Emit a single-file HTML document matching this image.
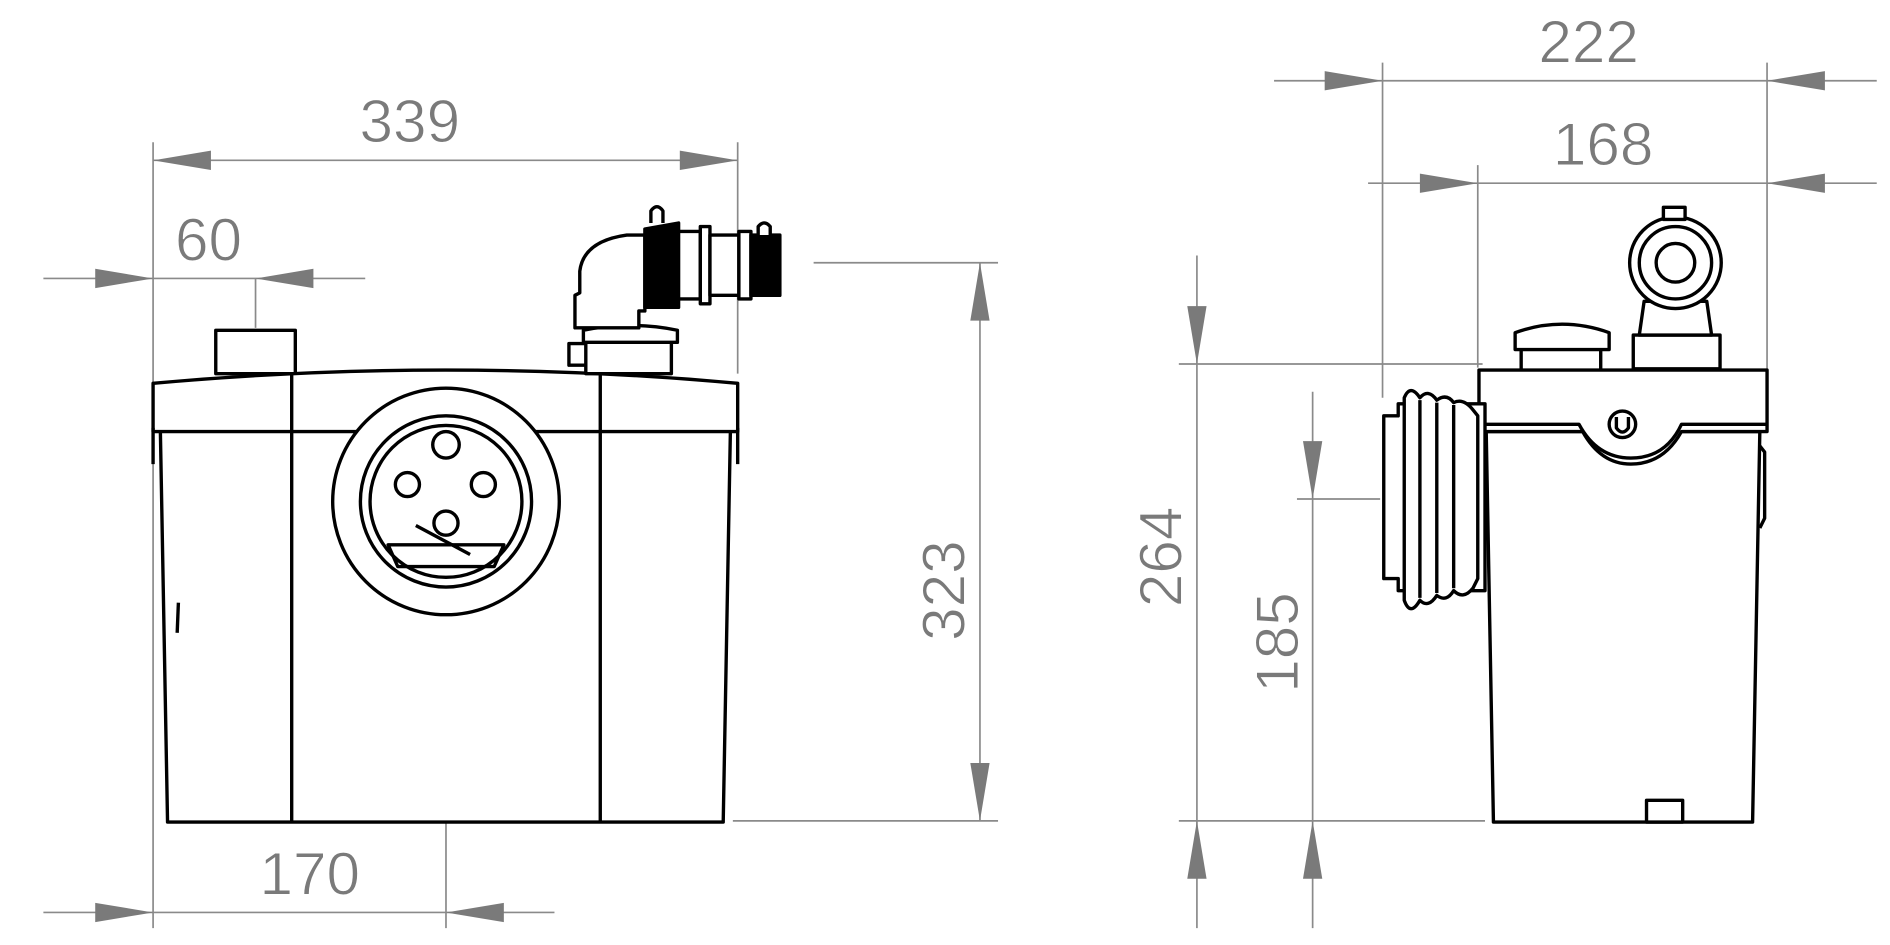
<!DOCTYPE html>
<html><head><meta charset="utf-8"><style>
html,body{margin:0;padding:0;background:#fff;width:1890px;height:945px;overflow:hidden}
svg{display:block}
text{font-family:"Liberation Sans",sans-serif;fill:#7a7a7a;font-size:50px;stroke:#fff;stroke-width:0.8px}
</style></head><body>
<svg width="1890" height="945" viewBox="0 0 1568 784" preserveAspectRatio="none">
<defs>
<g id="ar"><polygon points="0,0 -48,-8 -48,8" fill="#7a7a7a"/></g>
</defs>
<g stroke="#8a8a8a" stroke-width="1.4" fill="none">
<line x1="127" y1="133" x2="612" y2="133"/>
<line x1="127" y1="118" x2="127" y2="770"/>
<line x1="612" y1="118" x2="612" y2="310"/>
<line x1="36" y1="231" x2="303" y2="231"/>
<line x1="212" y1="231" x2="212" y2="272"/>
<line x1="813" y1="218" x2="813" y2="681"/>
<line x1="675" y1="218" x2="828" y2="218"/>
<line x1="608" y1="681" x2="828" y2="681"/>
<line x1="36" y1="757" x2="460" y2="757"/>
<line x1="370" y1="395" x2="370" y2="770"/>
<line x1="1057" y1="67" x2="1557" y2="67"/>
<line x1="1147" y1="52" x2="1147" y2="330"/>
<line x1="1466" y1="52" x2="1466" y2="310"/>
<line x1="1135" y1="152" x2="1557" y2="152"/>
<line x1="1226" y1="137" x2="1226" y2="305"/>
<line x1="993" y1="212" x2="993" y2="770"/>
<line x1="978" y1="302" x2="1230" y2="302"/>
<line x1="978" y1="681" x2="1232" y2="681"/>
<line x1="1089" y1="325" x2="1089" y2="770"/>
<line x1="1076" y1="414" x2="1145" y2="414"/>
</g>
<g>
<use href="#ar" transform="translate(127,133) rotate(180)"/>
<use href="#ar" transform="translate(612,133)"/>
<use href="#ar" transform="translate(127,231)"/>
<use href="#ar" transform="translate(212,231) rotate(180)"/>
<use href="#ar" transform="translate(813,218) rotate(-90)"/>
<use href="#ar" transform="translate(813,681) rotate(90)"/>
<use href="#ar" transform="translate(127,757)"/>
<use href="#ar" transform="translate(370,757) rotate(180)"/>
<use href="#ar" transform="translate(1147,67)"/>
<use href="#ar" transform="translate(1466,67) rotate(180)"/>
<use href="#ar" transform="translate(1226,152)"/>
<use href="#ar" transform="translate(1466,152) rotate(180)"/>
<use href="#ar" transform="translate(993,302) rotate(90)"/>
<use href="#ar" transform="translate(993,681) rotate(-90)"/>
<use href="#ar" transform="translate(1089,414) rotate(90)"/>
<use href="#ar" transform="translate(1089,681) rotate(-90)"/>
</g>
<g>
<text x="340" y="118" text-anchor="middle">339</text>
<text x="173" y="216" text-anchor="middle">60</text>
<text x="257" y="742" text-anchor="middle">170</text>
<text x="1318" y="52" text-anchor="middle">222</text>
<text x="1330" y="137" text-anchor="middle">168</text>
<text transform="translate(800,490) rotate(-90)" text-anchor="middle">323</text>
<text transform="translate(980,462) rotate(-90)" text-anchor="middle">264</text>
<text transform="translate(1077,533) rotate(-90)" text-anchor="middle">185</text>
</g>
<g stroke="#000" stroke-width="2.8" fill="#fff" stroke-linejoin="round">
<rect x="179" y="274" width="66" height="36"/>
<path d="M133,355 L606,355 L600,682 L139,682 Z"/>
<path d="M127,358 L127,318 Q370,296 612,318 L612,358 Z"/>
<path d="M127,355 L127,385 M612,355 L612,385" fill="none"/>
<line x1="242" y1="310" x2="242" y2="682"/>
<line x1="498" y1="310" x2="498" y2="682"/>
<circle cx="370" cy="416" r="94"/>
<circle cx="370" cy="416" r="71" fill="none"/>
<circle cx="370" cy="416" r="63" fill="none"/>
<circle cx="370" cy="369" r="11"/>
<circle cx="338" cy="402" r="10"/>
<circle cx="401" cy="402" r="10"/>
<circle cx="370" cy="434" r="10"/>
<path d="M322,452 L418,452 L410,470 L330,470 Z" fill="none"/>
<path d="M345,436 L390,460" fill="none"/>
<line x1="148" y1="500" x2="147" y2="525"/>
<rect x="486" y="284" width="71" height="26"/>
<path d="M484,284 L484,274 Q523,266 562,274 L562,284 Z"/>
<rect x="472" y="285" width="14" height="18"/>
<path d="M477,272 L477,245 L481,243 L481,225 Q484,200 520,195 L535,195 L535,258 L530,258 L530,272 Z"/>
<path d="M535,190 L563,185 L563,255 L535,255 Z" fill="#000"/>
<rect x="563" y="192" width="18" height="56"/>
<rect x="581" y="188" width="8" height="64"/>
<rect x="589" y="195" width="24" height="50"/>
<rect x="613" y="192" width="10" height="56"/>
<rect x="623" y="195" width="24" height="50" fill="#000"/>
<path d="M540,185 L540,175 Q545,168 550,175 L550,185" />
<path d="M629,195 L629,188 Q634,182 639,188 L639,195" />
</g>
<g stroke="#000" stroke-width="2.8" fill="#fff" stroke-linejoin="round">
<rect x="1262" y="283" width="66" height="25"/>
<path d="M1257,290 L1257,276 Q1296,262 1335,276 L1335,290 Z"/>
<rect x="1355" y="278" width="72" height="28"/>
<path d="M1360,278 L1364,250 L1416,250 L1420,278 Z"/>
<circle cx="1390" cy="218" r="38"/>
<circle cx="1390" cy="218" r="30" fill="none"/>
<circle cx="1390" cy="218" r="16"/>
<rect x="1380" y="172" width="18" height="10"/>
<path d="M1233,358 L1460,358 L1454,682 L1239,682 Z"/>
<path d="M1227,307 L1466,307 L1466,358 L1395,358 Q1380,385 1353,385 Q1328,385 1313,358 L1227,358 Z"/>
<path d="M1227,352 L1310,352 Q1325,380 1353,380 Q1382,380 1395,352 L1466,352" fill="none"/>
<circle cx="1346" cy="352" r="11" fill="none"/>
<path d="M1341,346 L1341,355 Q1346,362 1351,355 L1351,346" fill="none"/>
<rect x="1366" y="664" width="30" height="18"/>
<path d="M1460,370 L1464,375 L1464,430 L1460,438" fill="none"/>
<path d="M1148,345 L1160,345 L1160,335 L1232,335 L1232,490 L1160,490 L1160,480 L1148,480 Z"/>
<path d="M1165,330 Q1170,318 1178,330 Q1185,322 1192,332 Q1200,326 1206,334 Q1214,330 1222,340 L1226,345 L1226,480 L1222,488 Q1214,498 1206,490 Q1200,500 1192,494 Q1185,505 1178,498 Q1170,512 1165,498 Z"/>
<line x1="1178" y1="332" x2="1178" y2="496" />
<line x1="1192" y1="334" x2="1192" y2="492" />
<line x1="1206" y1="336" x2="1206" y2="488" />
</g>
</svg>
</body></html>
